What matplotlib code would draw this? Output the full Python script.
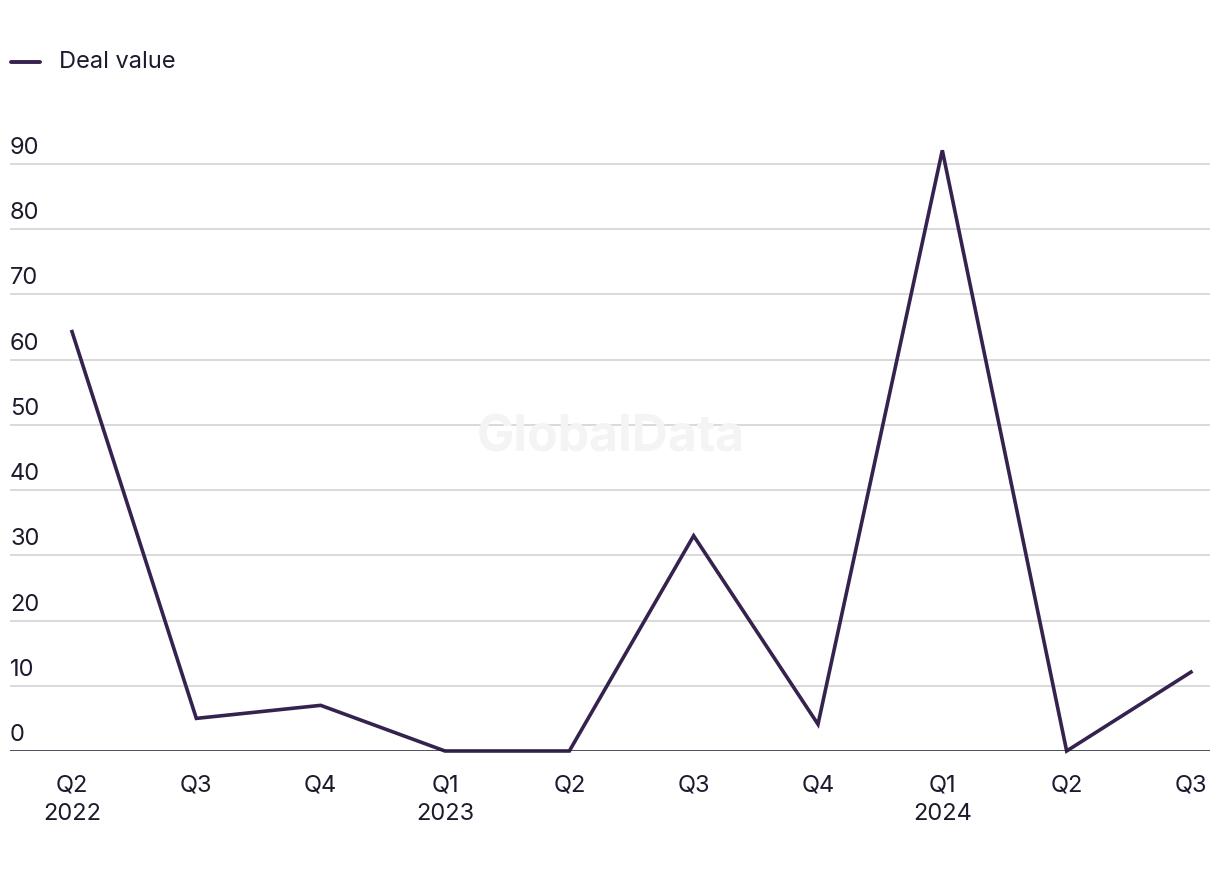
import matplotlib
matplotlib.use("Agg")
import matplotlib.pyplot as plt
from matplotlib.lines import Line2D

quarters = ["Q2\n2022", "Q3", "Q4", "Q1\n2023", "Q2", "Q3", "Q4", "Q1\n2024", "Q2", "Q3"]
deal_value = [64.3, 5.0, 7.0, 0.0, 0.0, 33.0, 4.1, 92.1, 0.0, 12.1]
y_ticks = [0, 10, 20, 30, 40, 50, 60, 70, 80, 90]

plt.rcParams['font.family'] = ['Inter', 'DejaVu Sans']
W, H = 1220, 872
fig = plt.figure(figsize=(W / 100, H / 100), dpi=100)

ax_left = 10 / W
ax_right = 1210 / W
bottom_px = 751
top_px = 751 - 95 * (751 - 164) / 90
ax = fig.add_axes([ax_left, 1 - bottom_px / H, ax_right - ax_left, (bottom_px - top_px) / H])

text_color = "#1c1b2e"
line_color = "#35224f"

x = list(range(len(deal_value)))
ax.plot(x, deal_value, color=line_color, lw=2.6, solid_joinstyle="miter", zorder=3, clip_on=False)

ax.set_xlim(-0.4987, 9.153)
ax.set_ylim(0, 95)

for t in y_ticks[1:]:
    ax.axhline(t, color="#d9d9d9", lw=1.4, zorder=1)
ax.axhline(0, color=text_color, lw=1.8, zorder=4)

for s in ax.spines.values():
    s.set_visible(False)
ax.set_yticks([])
ax.set_xticks(x)
ax.set_xticklabels(quarters, fontsize=17, color=text_color, linespacing=1.4)
ax.tick_params(axis="x", length=0, pad=17)

# y labels inside plot above gridlines
for t in y_ticks:
    ax.annotate(str(t), xy=(0, t), xycoords=("axes fraction", "data"),
                xytext=(0, 5), textcoords="offset pixels",
                ha="left", va="bottom", fontsize=17, color=text_color)

# watermark
fig.text(611 / W, 1 - 438 / H, "GlobalData", fontsize=36, fontweight="bold",
         color="#f4f4f4", ha="center", va="center", zorder=0)

# legend
fig.add_artist(Line2D([11 / W, 40 / W], [1 - 62 / H, 1 - 62 / H], color=line_color, lw=2.8,
                      solid_capstyle="round"))
fig.text(59 / W, 1 - 62 / H, "Deal value", fontsize=17, color=text_color, ha="left", va="center")

fig.savefig("out.png", dpi=100, facecolor="white")
